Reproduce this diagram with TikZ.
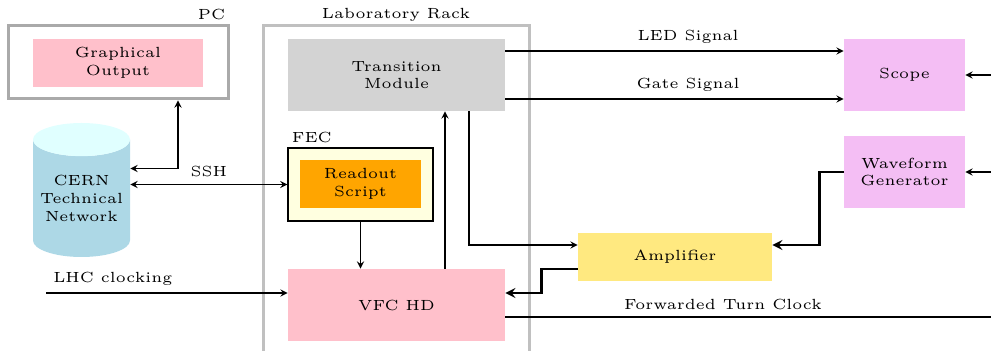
\documentclass[tikz,border=0pt]{standalone}
\usepackage{tikz}
\usetikzlibrary{shapes.geometric}

\DeclareFontFamily{TU}{lmrfive}{}
\DeclareFontShape{TU}{lmrfive}{m}{n}{<-> "[lmroman5-regular]:+tlig;"}{}
\newcommand\diagfont{\fontfamily{lmrfive}\fontsize{7.35}{8.85}\selectfont}

\definecolor{pcgray}{RGB}{170,170,170}
\definecolor{rackgray}{RGB}{192,192,192}
\definecolor{boxpink}{RGB}{255,192,203}
\definecolor{boxgray}{RGB}{211,211,211}
\definecolor{fecyellow}{RGB}{255,255,224}
\definecolor{scriptorange}{RGB}{255,165,0}
\definecolor{ampyellow}{RGB}{255,233,128}
\definecolor{labviolet}{RGB}{244,190,244}
\definecolor{netblue}{RGB}{173,216,230}
\definecolor{netcyan}{RGB}{224,255,255}

\tikzset{
  block/.style={align=center,inner sep=0pt,font=\diagfont},
  frame/.style={line width=1.5pt},
  tag/.style={font=\diagfont},
}

\begin{document}
\begin{tikzpicture}[x=0.5pt,y=-0.5pt,>=stealth]
  \useasboundingbox (0,0) rectangle (991,351);
  \clip (0,0) rectangle (991,351);

  % containers
  \draw[frame,draw=rackgray] (263,26) rectangle (529,420);
  \node[tag,anchor=south,inner sep=2pt] (racktag) at (396,26) {Laboratory Rack};
  \node[frame,draw=pcgray,minimum width=110pt,minimum height=36.5pt] (pc) at (118,62.5) {};
  \node[tag,anchor=south east,inner sep=2pt] (pctag) at (pc.north east) {PC};
  \node[draw,fill=fecyellow,line width=0.6pt,minimum width=72.5pt,minimum height=36.5pt] (fec) at (360.5,184.5) {};
  \node[tag,anchor=south west,inner sep=2pt] (fectag) at (fec.north west) {FEC};

  % blocks
  \node[block,fill=boxpink,minimum width=85pt,minimum height=24pt] (graph) at (118,63) {Graphical\\Output};
  \node[cylinder,shape border rotate=90,aspect=0.4,minimum width=48.5pt,minimum height=67pt,
        cylinder uses custom fill,cylinder body fill=netblue,cylinder end fill=netcyan,
        align=center,font=\diagfont,inner sep=0pt,anchor=shape center] (cern) at (81.5,190) {CERN\\Technical\\Network};
  \node[block,fill=boxgray,minimum width=108.5pt,minimum height=36pt] (trans) at (396.5,75) {Transition\\Module};
  \node[block,fill=scriptorange,minimum width=60.5pt,minimum height=24pt] (script) at (360.5,184) {Readout\\Script};
  \node[block,fill=boxpink,minimum width=108.5pt,minimum height=36pt] (vfc) at (396.5,305) {VFC HD};
  \node[block,fill=ampyellow,minimum width=97pt,minimum height=24pt] (amp) at (675,257) {Amplifier};
  \node[block,fill=labviolet,minimum width=60.5pt,minimum height=36pt] (scope) at (904.5,75) {Scope};
  \node[block,fill=labviolet,minimum width=60.5pt,minimum height=36pt] (wave) at (904.5,172) {Waveform\\Generator};

  % free ends
  \coordinate (lhcin) at (46,293);
  \coordinate (scopein) at (1000,75);
  \coordinate (wavein) at (1000,172);
  \coordinate (turnout) at (1000,317);

  % connections
  \draw[semithick,<->] ([yshift=15pt]cern.east) -| ([xshift=30pt]pc.south);
  \draw[semithick,<->] (cern.east |- fec.west) -- (fec.west) node[tag,midway,above] {SSH};
  \draw[semithick,->] (fec.south) -- (fec.south |- vfc.north);
  \draw[semithick,->] ([xshift=24.25pt]vfc.north) -- ([xshift=24.25pt]trans.south);
  \draw[semithick,->] ([xshift=36.25pt]trans.south) |- ([yshift=6pt]amp.west);
  \draw[very thick,->] ([yshift=-6pt]amp.west) -- ++(-18pt,0) |- ([yshift=6pt]vfc.east);
  \draw[very thick,->] (wave.west) -- ++(-12pt,0) |- ([yshift=6pt]amp.east);
  \draw[semithick,->] ([yshift=12pt]trans.east) -- ([yshift=12pt]trans.east -| scope.west)
    node[tag,pos=0.54,above] {LED Signal};
  \draw[semithick,->] ([yshift=-12pt]trans.east) -- ([yshift=-12pt]trans.east -| scope.west)
    node[tag,pos=0.54,above] {Gate Signal};
  \draw[semithick,->] (scopein) -- (scope.east);
  \draw[semithick,->] (wavein) -- (wave.east);
  \draw[semithick,->] (lhcin) -- (lhcin -| vfc.west) node[tag,pos=0,above right] {LHC clocking};
  \draw[semithick] ([yshift=-6pt]vfc.east) -- (turnout) node[tag,pos=0.44,above] {Forwarded Turn Clock};
\end{tikzpicture}
\end{document}
